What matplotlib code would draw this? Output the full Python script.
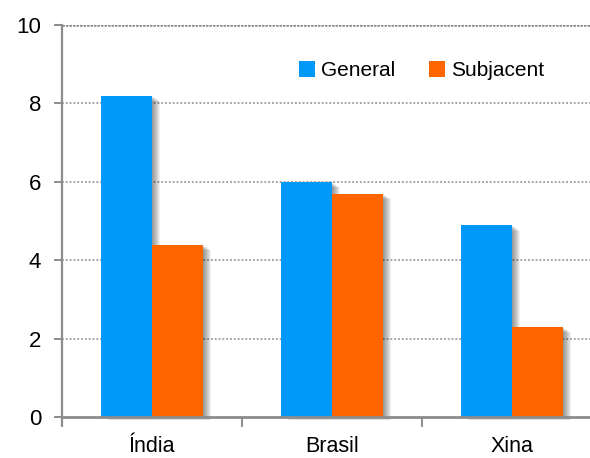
import numpy as np
import matplotlib
matplotlib.use("Agg")
import matplotlib.pyplot as plt
from matplotlib.patches import Rectangle

countries = ["Índia", "Brasil", "Xina"]
general = [8.2, 6.0, 4.9]
subjacent = [4.4, 5.7, 2.3]

BLUE = "#0099f8"
ORANGE = "#ff6600"
AXC = "#8c8c8c"
FONT = ["Liberation Sans", "DejaVu Sans"]

plt.rcParams["font.family"] = FONT

fig = plt.figure(figsize=(5.90, 4.58), dpi=100)
ax = fig.add_axes([62 / 590, 41 / 458, 540 / 590, 392 / 458])

x = np.arange(len(countries))
w = 0.285

# soft drop shadow behind each bar (a few stacked translucent offsets)
px_x, px_y = 1 / 180, 10 / 392
for xs, vals in ((x - w / 2, general), (x + w / 2, subjacent)):
    for xi, v in zip(xs, vals):
        for k in range(1, 9):
            ax.add_patch(Rectangle((xi - w / 2 + k * px_x, -k * 0.4 * px_y),
                                   w, v - k * 0.3 * px_y, color="black",
                                   alpha=0.06, lw=0, zorder=1, clip_on=False))

ax.bar(x - w / 2, general, w, color=BLUE, zorder=3, label="General")
ax.bar(x + w / 2, subjacent, w, color=ORANGE, zorder=3, label="Subjacent")

for g in (2, 4, 6, 8):
    ax.axhline(g, color="#8a8a8a", lw=1.1, ls=(0, (1.2, 1.3)), zorder=0)
ax.axhline(10, color="#8a8a8a", lw=1.8, ls=(0, (1.0, 0.4)), zorder=0)

ax.set_xlim(-0.5, 2.5)
ax.set_ylim(0, 10)

for s in ("top", "right"):
    ax.spines[s].set_visible(False)
ax.spines["left"].set_color(AXC)
ax.spines["left"].set_linewidth(1.6)
ax.spines["left"].set_bounds(-0.2, 10)
ax.spines["bottom"].set_color(AXC)
ax.spines["bottom"].set_linewidth(2.0)
ax.spines["bottom"].set_zorder(4)

ax.set_yticks([0, 2, 4, 6, 8, 10])
ax.tick_params(axis="y", length=6, width=1.4, color=AXC, pad=9,
               labelsize=16, labelcolor="black")
ax.set_xticks([-0.5, 0.5, 1.5, 2.5])
ax.set_xticklabels([])
ax.set_xticks(x, minor=True)
ax.set_xticklabels(countries, minor=True)
ax.tick_params(axis="x", which="major", length=7, width=1.4, color=AXC,
               direction="out")
ax.tick_params(axis="x", which="minor", length=0, pad=14, labelsize=15.5)

leg = ax.legend(loc="upper left", bbox_to_anchor=(0.405, 0.955), ncol=2,
                frameon=False, fontsize=15, handlelength=0.75,
                handleheight=0.75, handletextpad=0.3, columnspacing=1.6)

fig.savefig("out.png", dpi=100)
